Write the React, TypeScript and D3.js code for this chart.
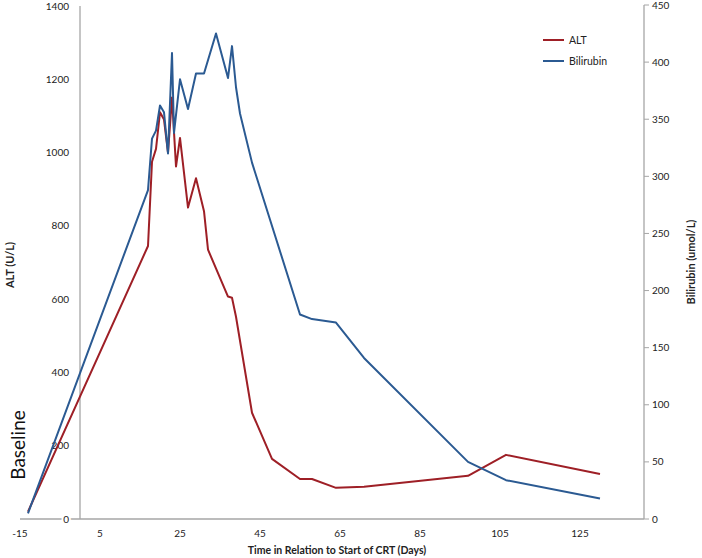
import React from "react";
import * as d3 from "d3";

const altDays = [-13, 17, 18, 19, 20, 21, 22, 23, 24, 25, 27, 29, 31, 32, 37, 38, 39, 43, 48, 55, 58, 64, 71, 97, 106.5, 130];
const altValues = [20, 745, 975, 1010, 1110, 1090, 1000, 1150, 962, 1040, 850, 930, 840, 735, 607, 604, 552, 290, 164, 109, 109, 85, 88, 118, 175, 123];

const biliDays = [-13, 17, 18, 19, 20, 21, 22, 23, 23.5, 25, 27, 29, 31, 34, 37, 38, 39, 40, 43, 55, 58, 64, 71, 97, 106.5, 130];
const biliValues = [5, 288, 333, 340, 362, 356, 320, 408, 338, 385, 359, 390, 390, 425, 386, 414, 378, 355, 312, 179, 175, 172, 141, 50, 34, 18];

const xTicks = [-15, 5, 25, 45, 65, 85, 105, 125];
const leftTicks = [0, 200, 400, 600, 800, 1000, 1200, 1400];
const rightTicks = [0, 50, 100, 150, 200, 250, 300, 350, 400, 450];

const RED = "#9E1F26";
const BLUE = "#2B5A92";
const AXIS = "#A6A6A6";
const FONT = "Lato, 'Open Sans', sans-serif";

export default function App() {
  const W = 702, H = 558;
  const x = d3.scaleLinear().domain([-15, 141]).range([20, 644]);
  const yL = d3.scaleLinear().domain([0, 1400]).range([519, 6]);
  const yR = d3.scaleLinear().domain([0, 450]).range([519, 5]);

  const altLine = d3.line<number>().x((_, i) => x(altDays[i])).y((v) => yL(v));
  const biliLine = d3.line<number>().x((_, i) => x(biliDays[i])).y((v) => yR(v));

  const x0 = x(0);
  const xr = x(141);
  const yb = yL(0);

  return (
    <svg width={W} height={H} style={{ position: "absolute", left: 0, top: 0, background: "#fff" }} fontFamily={FONT}>
      <rect width={W} height={H} fill="#fff" />
      {/* axes */}
      <line x1={x(-15)} x2={xr} y1={yb} y2={yb} stroke={AXIS} strokeWidth={1.3} />
      <line x1={x0} x2={x0} y1={yL(1400)} y2={yb} stroke={AXIS} strokeWidth={1.3} />
      <line x1={xr} x2={xr} y1={yR(450)} y2={yb} stroke={AXIS} strokeWidth={1.3} />
      {rightTicks.map((t) => (
        <line key={"rt" + t} x1={xr} x2={xr + 5} y1={yR(t)} y2={yR(t)} stroke={AXIS} strokeWidth={1} />
      ))}
      {/* left tick labels */}
      {leftTicks.map((t) => (
        <text key={"lt" + t} x={69} y={yL(t)} dy="0.35em" textAnchor="end" fontSize={10} fill="#222"
          stroke={t === 0 ? "#fff" : "none"} strokeWidth={t === 0 ? 4 : 0} paintOrder="stroke">
          {t}
        </text>
      ))}
      {/* right tick labels */}
      {rightTicks.map((t) => (
        <text key={"rl" + t} x={652} y={yR(t)} dy="0.35em" textAnchor="start" fontSize={10} fill="#222">
          {t}
        </text>
      ))}
      {/* x tick labels */}
      {xTicks.map((t) => (
        <text key={"xt" + t} x={x(t)} y={537} textAnchor="middle" fontSize={10} fill="#222">
          {t}
        </text>
      ))}
      {/* titles */}
      <text x={337} y={554} textAnchor="middle" fontSize={10.5} fontWeight="bold" fill="#222">
        Time in Relation to Start of CRT (Days)
      </text>
      <text transform={`translate(14,265) rotate(-90)`} textAnchor="middle" fontSize={11} fontWeight="bold" fill="#222">
        ALT (U/L)
      </text>
      <text transform={`translate(695,262) rotate(-90)`} textAnchor="middle" fontSize={11} fontWeight="bold" fill="#222">
        Bilirubin (umol/L)
      </text>
      <text transform={`translate(25,445) rotate(-90)`} textAnchor="middle" fontSize={19} fill="#111">
        Baseline
      </text>
      {/* series */}
      <path d={altLine(altValues) || ""} fill="none" stroke={RED} strokeWidth={2} strokeLinejoin="round" />
      <path d={biliLine(biliValues) || ""} fill="none" stroke={BLUE} strokeWidth={2} strokeLinejoin="round" />
      {/* legend */}
      <line x1={543} x2={564} y1={40} y2={40} stroke={RED} strokeWidth={2} />
      <text x={569} y={40} dy="0.35em" fontSize={10.5} fill="#222">ALT</text>
      <line x1={543} x2={564} y1={61} y2={61} stroke={BLUE} strokeWidth={2} />
      <text x={569} y={61} dy="0.35em" fontSize={10.5} fill="#222">Bilirubin</text>
    </svg>
  );
}
